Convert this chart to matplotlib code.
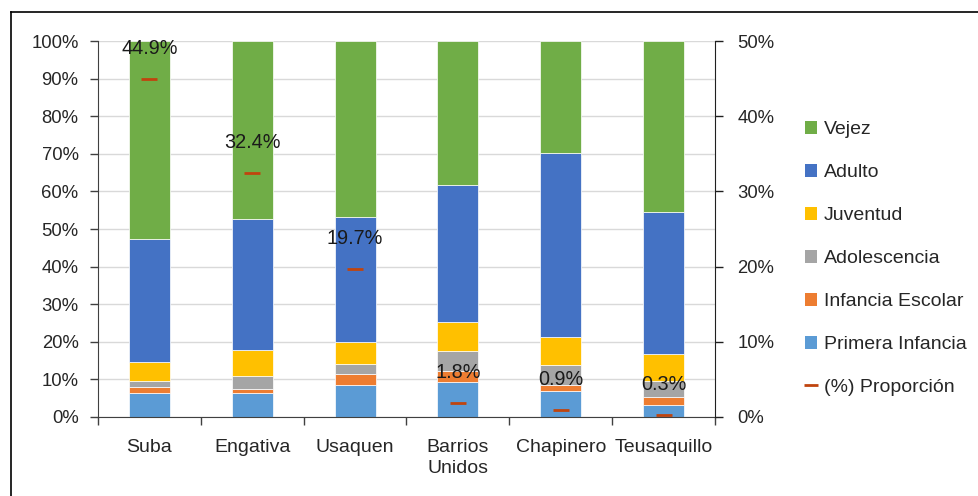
import numpy as np
import matplotlib
matplotlib.use("Agg")
import matplotlib.pyplot as plt
from matplotlib.patches import Patch
from matplotlib.lines import Line2D
from matplotlib.ticker import PercentFormatter

plt.rcParams['font.family'] = ['Liberation Sans', 'DejaVu Sans']

# localidades y grupos de edad (porcentaje de cada grupo)
localidades = ["Suba", "Engativa", "Usaquen", "Barrios\nUnidos", "Chapinero", "Teusaquillo"]
primera_infancia = [6.3, 6.3, 8.5, 9.4, 6.9, 3.1]
infancia_escolar = [1.6, 1.2, 2.9, 2.9, 1.5, 2.1]
adolescencia = [1.7, 3.5, 2.7, 5.2, 5.4, 4.4]
juventud = [5.1, 6.8, 5.8, 7.8, 7.5, 7.2]
adulto = [32.6, 34.8, 33.4, 36.5, 49.0, 37.8]
vejez = [52.7, 47.4, 46.7, 38.2, 29.7, 45.4]
# proporcion de cada localidad (eje secundario)
proporcion = [44.9, 32.4, 19.7, 1.8, 0.9, 0.3]

grupos = [
    ("Primera Infancia", primera_infancia, "#5B9BD5"),
    ("Infancia Escolar", infancia_escolar, "#ED7D31"),
    ("Adolescencia", adolescencia, "#A5A5A5"),
    ("Juventud", juventud, "#FFC000"),
    ("Adulto", adulto, "#4472C4"),
    ("Vejez", vejez, "#70AD47"),
]
col_prop = "#C0440E"

fig = plt.figure(figsize=(9.79, 4.96), dpi=100)
ax = fig.add_axes([0.1001, 0.1593, 0.6302, 0.758])

x = np.arange(len(localidades))
base = np.zeros(len(localidades))
for nombre, vals, color in grupos:
    ax.bar(x, vals, 0.4, bottom=base, color=color, edgecolor="white", linewidth=0.5, zorder=2)
    base += np.array(vals)

ax.set_xlim(-0.5, len(localidades) - 0.5)
ax.set_ylim(0, 100)
ax.set_yticks(np.arange(0, 101, 10))
ax.yaxis.set_major_formatter(PercentFormatter(decimals=0))
ax.grid(axis="y", color="#D9D9D9", linewidth=1, zorder=0)
ax.set_xticks(x)
ax.set_xticklabels(localidades, fontsize=14, color="#262626", linespacing=1.3)
ax.set_xticks(np.arange(-0.5, len(localidades)), minor=True)
ax.tick_params(axis="x", which="major", length=0, pad=16)
ax.tick_params(axis="x", which="minor", length=6, width=1, color="#404040")
ax.tick_params(axis="y", length=6, width=1, color="#404040", labelsize=13.3, labelcolor="#262626", pad=8)
for s in ["top", "right"]:
    ax.spines[s].set_visible(False)
ax.spines["left"].set_color("#404040")
ax.spines["bottom"].set_color("#404040")

ax2 = ax.twinx()
ax2.set_ylim(0, 50)
ax2.set_yticks(np.arange(0, 51, 10))
ax2.yaxis.set_major_formatter(PercentFormatter(decimals=0))
ax2.tick_params(axis="y", length=6, width=1, color="#202020", labelsize=13.3, labelcolor="#262626", pad=10)
for s in ["top", "left", "bottom"]:
    ax2.spines[s].set_visible(False)
ax2.spines["right"].set_color("#202020")
ax2.plot(x, proporcion, linestyle="none", marker="_", markersize=12, mew=2, color=col_prop, zorder=5)
for xi, p in zip(x, proporcion):
    ax2.annotate(f"{p:.1f}%", (xi, p), xytext=(0, 22), textcoords="offset points",
                 ha="center", va="center", fontsize=14.3, color="#1a1a1a")

handles = [Patch(facecolor=c, label=n) for n, v, c in grupos[::-1]]
handles.append(Line2D([], [], linestyle="none", marker="_", markersize=10, mew=2,
                      color=col_prop, label="(%) Proporción"))
fig.legend(handles=handles, loc="upper left", bbox_to_anchor=(0.804, 0.792), frameon=False,
           fontsize=14, labelspacing=1.32, handlelength=0.65, handleheight=0.65,
           handletextpad=0.35, labelcolor="#262626")

# marco exterior
fig.add_artist(Line2D([0.0112, 1.0], [0.9758, 0.9758], color="black", linewidth=1.2))
fig.add_artist(Line2D([0.0112, 0.0112], [0.0, 0.9758], color="black", linewidth=1.2))

fig.savefig("out.png", dpi=100)
